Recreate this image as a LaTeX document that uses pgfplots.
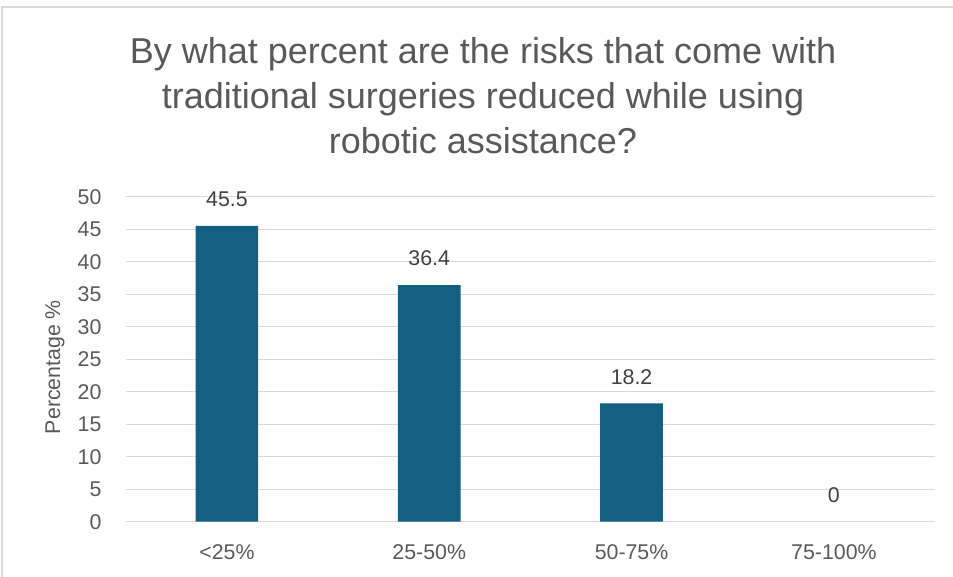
\documentclass[border=0pt]{standalone}
\usepackage{fontspec}
\setmainfont{Liberation Sans}
\usepackage{pgfplots}
\pgfplotsset{compat=1.18}
\definecolor{barblue}{HTML}{156082}
\definecolor{gridgray}{HTML}{D9D9D9}
\definecolor{ticktext}{HTML}{595959}
\definecolor{valtext}{HTML}{404040}
\begin{document}
\begin{tikzpicture}
\useasboundingbox (0,0) rectangle (714.75pt,432pt);
% chart frame
\draw[gridgray, line width=1.1pt] (1.5pt,-20pt) |- (740pt,426.75pt);
% title, one node per line
\begin{scope}[every node/.style={anchor=base, text=ticktext, font=\fontsize{27}{34}\selectfont}]
\node at (362.25pt,384.5pt) {By what percent are the risks that come with};
\node at (362.25pt,350.8pt) {traditional surgeries reduced while using};
\node at (362.25pt,317pt) {robotic assistance?};
\end{scope}
% y axis title
\node[rotate=90, text=ticktext, font=\fontsize{16}{19}\selectfont] at (41.25pt,156.75pt) {Percentage \%};
\begin{axis}[
  at={(94.3pt,40.7pt)}, anchor=south west,
  scale only axis,
  width=607pt, height=243.75pt,
  xmin=-0.5, xmax=3.5, ymin=0, ymax=50,
  ytick={0,5,...,50},
  xtick={0,1,2,3},
  xticklabels={{<25\%},{25-50\%},{50-75\%},{75-100\%}},
  /pgf/number format/assume math mode=true,
  axis line style={draw=none},
  ymajorgrids, major grid style={gridgray, line width=1.1pt},
  major tick length=0pt,
  tick label style={text=ticktext, font=\fontsize{16}{19}\selectfont, inner sep=0pt},
  yticklabel style={anchor=east, xshift=-18pt},
  xticklabel style={anchor=north, yshift=-17pt},
  ybar, bar width=47pt, bar shift=0pt,
  nodes near coords={\pgfmathprintnumber[fixed,precision=1]{\pgfplotspointmeta}},
  every node near coord/.append style={text=valtext, font=\fontsize{16}{19}\selectfont, anchor=base, inner sep=0pt, yshift=14.5pt},
  clip=false,
]
\addplot[fill=barblue, draw=none] coordinates {(0,45.5) (1,36.4) (2,18.2)};
% the empty category has no visible bar, only its label
\addplot[fill=none, draw=none] coordinates {(3,0)};
\end{axis}
\end{tikzpicture}
\end{document}
